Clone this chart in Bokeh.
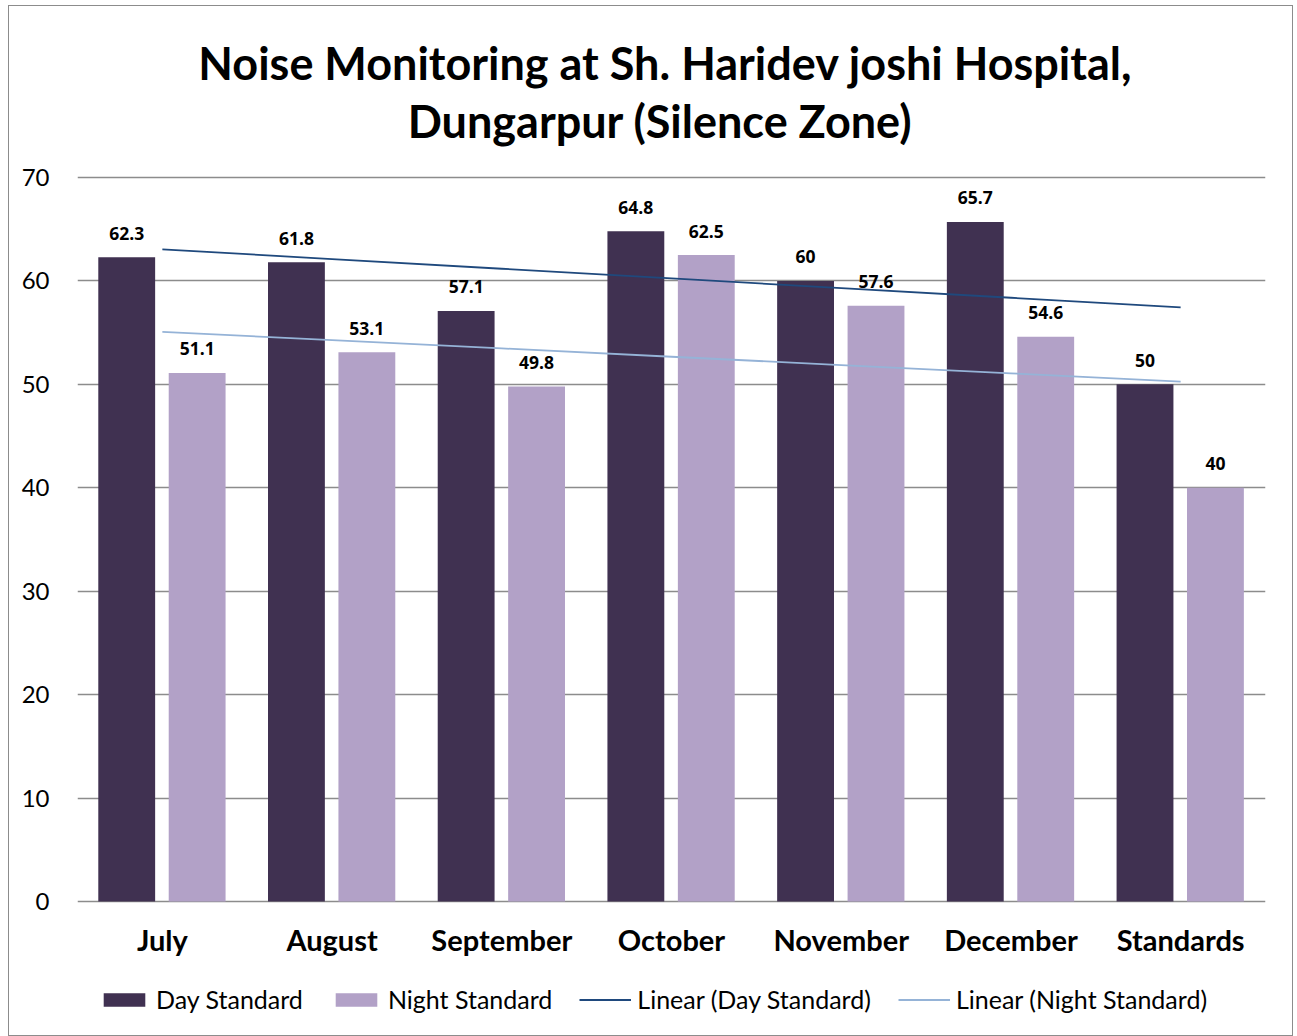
import numpy as np
from bokeh.plotting import figure
from bokeh.models import (ColumnDataSource, FactorRange, Legend, LegendItem,
                          FixedTicker, Range1d)
from bokeh.transform import dodge
from bokeh.core.properties import value
from bokeh.embed import file_html
from bokeh.resources import INLINE

months = ["July", "August", "September", "October", "November", "December", "Standards"]
day_values = [62.3, 61.8, 57.1, 64.8, 60, 65.7, 50]
night_values = [51.1, 53.1, 49.8, 62.5, 57.6, 54.6, 40]
y_ticks = [0, 10, 20, 30, 40, 50, 60, 70]
title_line1 = "Noise Monitoring at Sh. Haridev joshi Hospital,"
title_line2 = "Dungarpur  (Silence Zone)"

FONT = "Lato"
DAY_C = "#403151"
NIGHT_C = "#B2A1C7"
DAY_TREND_C = "#1F497D"
NIGHT_TREND_C = "#95B3D7"
GRID_C = "#8C8C8C"

# linear trendlines (least squares over category index)
idx = np.arange(1, len(months) + 1)
day_trend = list(np.polyval(np.polyfit(idx, day_values, 1), idx))
night_trend = list(np.polyval(np.polyfit(idx, night_values, 1), idx))

src = ColumnDataSource(dict(
    month=months, day=day_values, night=night_values,
    base=[0] * len(months),
    day_lbl=[f"{v:g}" for v in day_values],
    night_lbl=[f"{v:g}" for v in night_values],
))
tsrc = ColumnDataSource(dict(month=months, dt=day_trend, nt=night_trend))

# the frame spans the whole chart; the value axis 0..70 occupies 724 px of it,
# title sits above 70 and category labels / legend below 0
PX_PER_UNIT = 724 / 70.0
y_start = -130 / PX_PER_UNIT
y_end = 70 + 171 / PX_PER_UNIT
top_value = max(y_ticks)

p = figure(x_range=FactorRange(*months, range_padding=0), y_range=Range1d(y_start, y_end),
           width=1285, height=1031, output_backend="svg", toolbar_location=None,
           min_border_left=68, min_border_right=29, min_border_top=0, min_border_bottom=6)
p.styles = {"margin-left": "8px", "margin-top": "5px",
            "border": "1.5px solid #8C8C8C", "box-sizing": "border-box"}
p.outline_line_color = None
p.background_fill_color = "white"
p.border_fill_color = "white"

bd = p.vbar(x=dodge("month", -0.21, range=p.x_range), top="day", width=0.335,
            source=src, fill_color=DAY_C, line_color=None)
bn = p.vbar(x=dodge("month", 0.205, range=p.x_range), top="night", width=0.335,
            source=src, fill_color=NIGHT_C, line_color=None)
ld = p.line(x="month", y="dt", source=tsrc, line_color=DAY_TREND_C, line_width=1.8)
ln = p.line(x="month", y="nt", source=tsrc, line_color=NIGHT_TREND_C, line_width=1.8)

lbl_kw = dict(text_font=value("Open Sans"), text_font_style="bold", text_font_size="17.5px",
              text_align="center", text_baseline="middle", y_offset=-24, text_color="black")
p.text(x=dodge("month", -0.21, range=p.x_range), y="day", text="day_lbl", source=src, **lbl_kw)
p.text(x=dodge("month", 0.205, range=p.x_range), y="night", text="night_lbl", source=src, **lbl_kw)

# category labels under the value-axis baseline
p.text(x="month", y="base", text="month", source=src, text_font=value(FONT),
       text_font_style="bold", text_font_size="29px", text_align="center",
       text_baseline="middle", y_offset=38, text_color="black")

# two-line centred title
mid = months[len(months) // 2]
ttl_kw = dict(text_font=value(FONT), text_font_style="bold", text_font_size="45px",
              text_align="center", text_baseline="middle", text_color="black", x_offset=-6)
p.text(x=[mid], y=[top_value], text=[title_line1], y_offset=-115, **ttl_kw)
p.text(x=[mid], y=[top_value], text=[title_line2], y_offset=-57, **ttl_kw)

# axes
p.xaxis.visible = False
p.yaxis.ticker = FixedTicker(ticks=y_ticks)
p.yaxis.axis_line_color = None
p.yaxis.major_tick_line_color = None
p.yaxis.minor_tick_line_color = None
p.yaxis.major_label_text_font = FONT
p.yaxis.major_label_text_font_size = "24px"
p.yaxis.major_label_text_color = "black"
p.yaxis.major_label_standoff = 22

p.xgrid.grid_line_color = None
p.ygrid.grid_line_color = GRID_C
p.ygrid.grid_line_width = 1.5

legend = Legend(items=[
    LegendItem(label="Day Standard", renderers=[bd]),
    LegendItem(label="Night Standard", renderers=[bn]),
    LegendItem(label="Linear (Day Standard)", renderers=[ld]),
    LegendItem(label="Linear (Night Standard)", renderers=[ln]),
], orientation="horizontal", location=(21, 17), border_line_color=None,
   background_fill_alpha=0, label_text_font=FONT, label_text_font_size="25px",
   label_text_color="black",
   glyph_width=52, glyph_height=17, spacing=27, label_standoff=6, padding=0, margin=0)
p.add_layout(legend, "center")

open("out.html", "w").write(file_html(p, INLINE))
